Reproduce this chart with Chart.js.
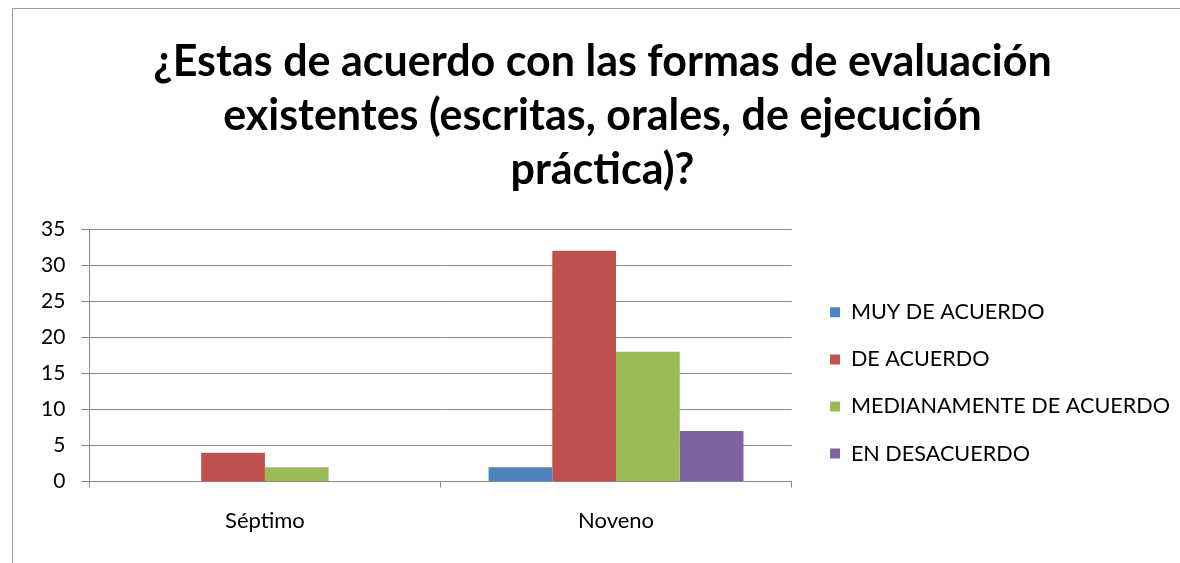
<!DOCTYPE html>
<html lang="es">
<head>
    <meta charset="UTF-8">
    <title>Formas de evaluación</title>
    <style>
        html, body {
            margin: 0;
            padding: 0;
            background: #fff;
            overflow: hidden;
        }
        .frame {
            position: absolute;
            left: 12px;
            top: 8px;
            width: 2000px;
            height: 2000px;
            border-left: 1.5px solid #9a9a9a;
            border-top: 1.5px solid #9a9a9a;
        }
        .chart-box {
            position: absolute;
            left: 0;
            top: 0;
            width: 1180px;
            height: 563px;
        }
    </style>
</head>
<body>
<div class="frame"></div>
<div class="chart-box">
    <canvas id="evalChart"></canvas>
</div>

<script src="https://cdn.jsdelivr.net/npm/chart.js"></script>
<script>
// categories and series
const grades = ['Séptimo', 'Noveno'];
const seriesNames = ['MUY DE ACUERDO', 'DE ACUERDO', 'MEDIANAMENTE DE ACUERDO', 'EN DESACUERDO'];
const muyDeAcuerdo = [0, 2];
const deAcuerdo = [4, 32];
const medianamente = [2, 18];
const enDesacuerdo = [0, 7];
const seriesColors = ['#4F81BD', '#C0504D', '#9BBB59', '#8064A2'];
const titleLines = [
    '¿Estas de acuerdo con las formas de evaluación',
    'existentes (escritas, orales, de ejecución',
    'práctica)?'
];

const allValues = [muyDeAcuerdo, deAcuerdo, medianamente, enDesacuerdo];
const FONT = 'Lato, "Open Sans", sans-serif';

const ctx = document.getElementById('evalChart').getContext('2d');
new Chart(ctx, {
    type: 'bar',
    data: {
        labels: grades,
        datasets: seriesNames.map((name, i) => ({
            label: name,
            data: allValues[i],
            backgroundColor: seriesColors[i],
            borderWidth: 0,
            barPercentage: 1,
            categoryPercentage: 0.726
        }))
    },
    options: {
        responsive: true,
        maintainAspectRatio: false,
        animation: false,
        layout: {
            padding: { left: 25, right: 0, top: 0, bottom: 9 }
        },
        plugins: {
            title: {
                display: true,
                text: titleLines,
                color: '#000',
                font: { family: FONT, size: 43, weight: 'bold', lineHeight: 1.256 },
                padding: { top: 35, bottom: 32 }
            },
            legend: {
                position: 'right',
                align: 'start',
                maxWidth: 420,
                // empty title only pushes the items down to the middle of the plot
                title: {
                    display: true,
                    text: '',
                    font: { size: 12, lineHeight: 1 },
                    padding: { top: 264, bottom: 0 }
                },
                labels: {
                    boxWidth: 10,
                    boxHeight: 10,
                    padding: 25.5,
                    color: '#000',
                    font: { family: FONT, size: 21.6 }
                }
            },
            tooltip: { enabled: false }
        },
        scales: {
            x: {
                grid: {
                    drawOnChartArea: false,
                    color: '#888',
                    tickLength: 6
                },
                border: { color: '#888' },
                ticks: {
                    color: '#000',
                    padding: 20,
                    font: { family: FONT, size: 22 }
                }
            },
            y: {
                min: 0,
                max: 35,
                grid: {
                    color: '#898989',
                    tickLength: 8
                },
                border: { color: '#888' },
                ticks: {
                    stepSize: 5,
                    color: '#000',
                    padding: 16,
                    font: { family: FONT, size: 21 }
                }
            },
            // spacer so the legend sits a little away from the plot
            gap: {
                position: 'right',
                display: true,
                grid: { display: false },
                border: { display: false },
                ticks: { display: false },
                afterFit: (scale) => { scale.width = 13; }
            }
        }
    }
});
</script>
</body>
</html>
